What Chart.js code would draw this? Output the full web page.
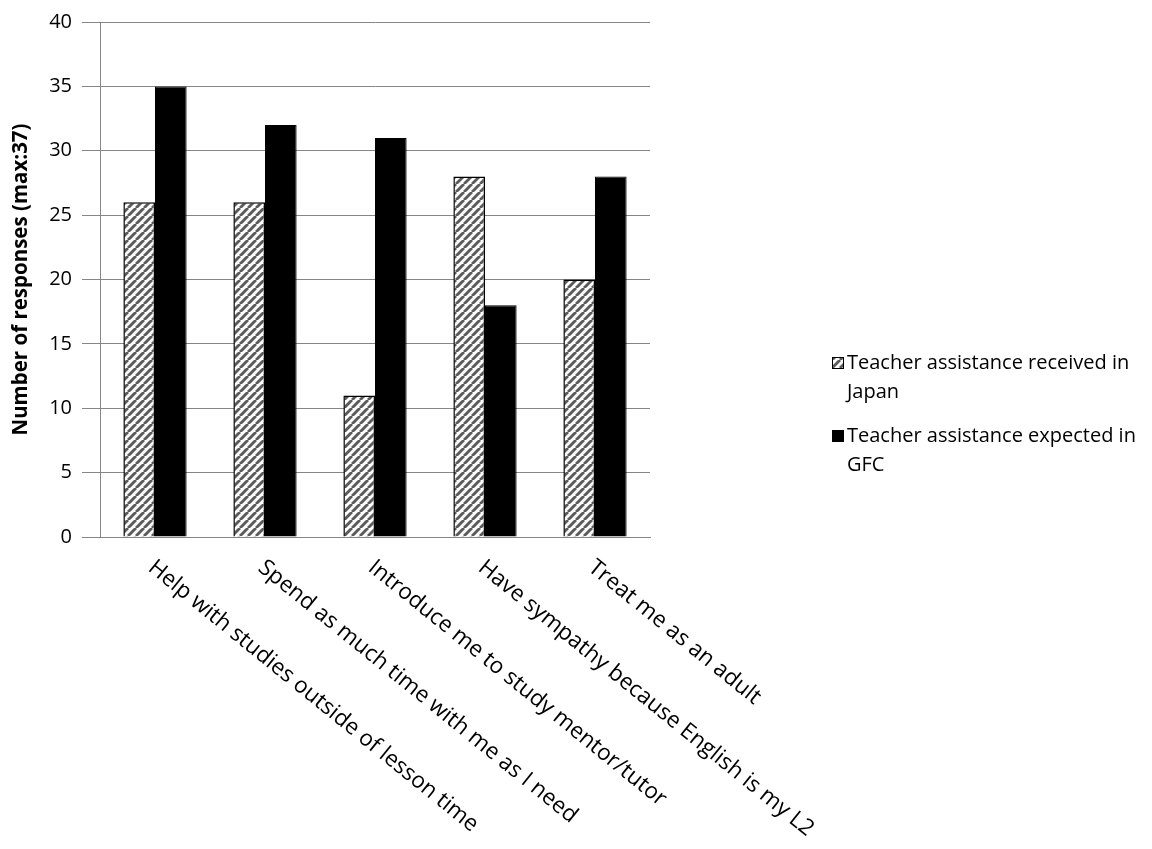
<!DOCTYPE html>
<html lang="en">
<head>
    <meta charset="UTF-8">
    <title>Teacher assistance</title>
    <script src="https://cdn.jsdelivr.net/npm/chart.js"></script>
    <style>
        body { margin: 0; padding: 0; background: white; }
        #wrap { width: 1152px; height: 849px; }
    </style>
</head>
<body>
<div id="wrap"><canvas id="chart" width="1152" height="849"></canvas></div>
<script>
    // data
    const categories = [
        'Help with studies outside of lesson time',
        'Spend as much time with me as I need',
        'Introduce me to study mentor/tutor',
        'Have sympathy because English is my L2',
        'Treat me as an adult'
    ];
    const receivedJapan = [26, 26, 11, 28, 20];
    const expectedGFC = [35, 32, 31, 18, 28];
    const legendLines = [
        ['Teacher assistance received in', 'Japan'],
        ['Teacher assistance expected in', 'GFC']
    ];
    const yTicks = [0, 5, 10, 15, 20, 25, 30, 35, 40];

    const FONT = '"Open Sans", "Liberation Sans", sans-serif';
    const gray = '#868686';

    // diagonal hatch for the first series
    function makeHatch() {
        const c = document.createElement('canvas');
        c.width = 8; c.height = 8;
        const g = c.getContext('2d');
        g.fillStyle = '#fff';
        g.fillRect(0, 0, 8, 8);
        g.strokeStyle = '#5a5a5a';
        g.lineWidth = 2.8;
        for (let k = -8; k <= 8; k += 8) {
            g.beginPath();
            g.moveTo(k, 8);
            g.lineTo(k + 8, 0);
            g.stroke();
        }
        return g.createPattern(c, 'repeat');
    }
    const ctx = document.getElementById('chart').getContext('2d');
    const hatch = makeHatch();

    // rotated category labels (start at the tick, run down to the right)
    const xLabels = {
        id: 'xLabels',
        afterDraw(chart) {
            const xs = chart.scales.x;
            const c = chart.ctx;
            c.save();
            c.font = '22.5px ' + FONT;
            c.fillStyle = '#000';
            c.textAlign = 'left';
            c.textBaseline = 'top';
            categories.forEach((lab, i) => {
                const x = xs.getPixelForValue(i);
                c.save();
                c.translate(x + 3, xs.top + 19);
                c.rotate(39 * Math.PI / 180);
                c.fillText(lab, 0, 0);
                c.restore();
            });
            c.restore();
        }
    };

    // legend on the right, two wrapped lines per entry
    const sideLegend = {
        id: 'sideLegend',
        afterDraw(chart) {
            const c = chart.ctx;
            c.save();
            c.font = '20px ' + FONT;
            c.textAlign = 'left';
            c.textBaseline = 'middle';
            const tops = [363, 436];
            legendLines.forEach((lines, i) => {
                const y = tops[i];
                c.fillStyle = i === 0 ? hatch : '#000';
                c.fillRect(832, y - 6, 12, 12);
                c.strokeStyle = '#000';
                c.lineWidth = 1;
                c.strokeRect(832.5, y - 5.5, 11, 11);
                c.fillStyle = '#000';
                c.fillText(lines[0], 847, y);
                c.fillText(lines[1], 847, y + 29);
            });
            c.restore();
        }
    };

    new Chart(ctx, {
        type: 'bar',
        data: {
            labels: categories,
            datasets: [{
                label: legendLines[0].join(' '),
                data: receivedJapan,
                backgroundColor: hatch,
                borderColor: '#000',
                borderWidth: 1.5,
                categoryPercentage: 0.575,
                barPercentage: 1.0
            }, {
                label: legendLines[1].join(' '),
                data: expectedGFC,
                backgroundColor: '#000',
                borderColor: '#000',
                borderWidth: 1,
                categoryPercentage: 0.575,
                barPercentage: 1.0
            }]
        },
        options: {
            responsive: false,
            animation: false,
            layout: { padding: { left: 0, top: 22, right: 502, bottom: 312 } },
            plugins: {
                legend: { display: false },
                tooltip: { enabled: false }
            },
            scales: {
                x: {
                    grid: { display: false, drawTicks: false },
                    border: { display: true, color: gray, width: 1 },
                    ticks: { display: false }
                },
                y: {
                    min: 0,
                    max: 40,
                    afterBuildTicks(scale) {
                        scale.ticks = yTicks.map(v => ({ value: v }));
                    },
                    afterFit(scale) { scale.width = 100; },
                    grid: { color: gray, lineWidth: 1, tickLength: 18 },
                    border: { display: true, color: gray, width: 1 },
                    ticks: {
                        padding: 10,
                        color: '#000',
                        font: { family: FONT, size: 20 }
                    },
                    title: {
                        display: true,
                        text: 'Number of responses (max:37)',
                        color: '#000',
                        font: { family: FONT, size: 20.5, weight: 'bold' },
                        padding: { top: 9, bottom: 9 }
                    }
                }
            }
        },
        plugins: [xLabels, sideLegend]
    });
</script>
</body>
</html>
